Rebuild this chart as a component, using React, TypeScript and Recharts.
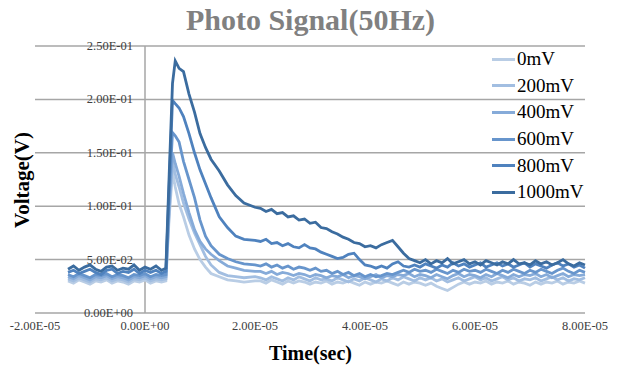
import React from 'react';
import { LineChart, Line, XAxis, YAxis, CartesianGrid, ReferenceLine } from 'recharts';

// time in units of 1e-5 s
const timeE5 = [
  -1.4, -1.3, -1.2, -1.1, -1.0, -0.9, -0.8, -0.7, -0.6, -0.5, -0.4, -0.3, -0.2, -0.1, 0, 0.1, 0.2, 0.3,
  0.38, 0.44, 0.5, 0.55, 0.62, 0.7, 0.8, 0.9, 1.0, 1.1, 1.2, 1.35, 1.5, 1.65, 1.8, 2.0,
  2.1, 2.2, 2.3, 2.4, 2.5, 2.6, 2.7, 2.8, 2.9, 3.0,
  3.1, 3.2, 3.3, 3.4, 3.5, 3.6, 3.7, 3.8, 3.9, 4.0,
  4.1, 4.2, 4.3, 4.4, 4.5, 4.6, 4.7, 4.8, 4.9, 5.0,
  5.1, 5.2, 5.3, 5.4, 5.5, 5.6, 5.7, 5.8, 5.9, 6.0,
  6.1, 6.2, 6.3, 6.4, 6.5, 6.6, 6.7, 6.8, 6.9, 7.0,
  7.1, 7.2, 7.3, 7.4, 7.5, 7.6, 7.7, 7.8, 7.9, 8.0,
];

const v1000 = [
  0.041, 0.044, 0.040, 0.043, 0.045, 0.041, 0.039, 0.043, 0.044, 0.040, 0.042, 0.041, 0.045, 0.040, 0.043, 0.041, 0.044, 0.040,
  0.042, 0.130, 0.215, 0.236, 0.229, 0.226, 0.205, 0.188, 0.168, 0.155, 0.144, 0.133, 0.120, 0.110, 0.103, 0.099,
  0.098, 0.095, 0.097, 0.093, 0.094, 0.090, 0.091, 0.087, 0.088, 0.084,
  0.085, 0.080, 0.079, 0.076, 0.074, 0.071, 0.069, 0.066, 0.065, 0.062,
  0.063, 0.061, 0.064, 0.066, 0.068, 0.062, 0.056, 0.051, 0.049, 0.047,
  0.050, 0.046, 0.049, 0.047, 0.051, 0.046, 0.048, 0.050, 0.046, 0.048,
  0.045, 0.049, 0.047, 0.045, 0.048, 0.046, 0.050, 0.046, 0.047, 0.045,
  0.049, 0.046, 0.048, 0.045, 0.047, 0.050, 0.046, 0.044, 0.047, 0.045,
];
const v800 = [
  0.038, 0.040, 0.037, 0.039, 0.041, 0.038, 0.036, 0.040, 0.041, 0.037, 0.039, 0.038, 0.041, 0.037, 0.040, 0.038, 0.040, 0.037,
  0.039, 0.120, 0.199, 0.196, 0.192, 0.184, 0.168, 0.150, 0.134, 0.121, 0.108, 0.090, 0.080, 0.072, 0.069, 0.068,
  0.067, 0.069, 0.065, 0.066, 0.063, 0.065, 0.062, 0.061, 0.064, 0.061,
  0.060, 0.057, 0.055, 0.053, 0.051, 0.052, 0.055, 0.056, 0.050, 0.045,
  0.044, 0.042, 0.044, 0.042, 0.046, 0.048, 0.044, 0.043, 0.045, 0.043,
  0.046, 0.044, 0.042, 0.045, 0.043, 0.047, 0.044, 0.046, 0.043, 0.045,
  0.047, 0.043, 0.045, 0.047, 0.044, 0.046, 0.043, 0.045, 0.047, 0.043,
  0.046, 0.044, 0.042, 0.045, 0.047, 0.044, 0.046, 0.043, 0.045, 0.042,
];
const v600 = [
  0.036, 0.034, 0.037, 0.035, 0.033, 0.036, 0.035, 0.037, 0.034, 0.036, 0.035, 0.033, 0.036, 0.035, 0.037, 0.034, 0.036, 0.035,
  0.036, 0.110, 0.169, 0.166, 0.160, 0.142, 0.125, 0.108, 0.087, 0.072, 0.063, 0.055, 0.051, 0.048, 0.046, 0.045,
  0.044, 0.046, 0.043, 0.045, 0.042, 0.044, 0.041, 0.043, 0.042, 0.040,
  0.042, 0.039, 0.040, 0.037, 0.039, 0.036, 0.038, 0.035, 0.037, 0.034,
  0.036, 0.034, 0.035, 0.037, 0.036, 0.038, 0.040, 0.038, 0.041, 0.039,
  0.040, 0.038, 0.041, 0.039, 0.037, 0.040, 0.038, 0.041, 0.039, 0.040,
  0.038, 0.041, 0.039, 0.037, 0.040, 0.038, 0.041, 0.039, 0.037, 0.040,
  0.038, 0.041, 0.039, 0.037, 0.040, 0.042, 0.039, 0.037, 0.040, 0.038,
];
const v400 = [
  0.034, 0.032, 0.035, 0.033, 0.031, 0.034, 0.033, 0.035, 0.032, 0.034, 0.033, 0.031, 0.034, 0.033, 0.035, 0.032, 0.034, 0.033,
  0.034, 0.100, 0.150, 0.140, 0.128, 0.112, 0.094, 0.078, 0.067, 0.060, 0.055, 0.049, 0.044, 0.042, 0.040, 0.039,
  0.039, 0.037, 0.039, 0.036, 0.038, 0.037, 0.035, 0.037, 0.036, 0.034,
  0.036, 0.035, 0.033, 0.035, 0.034, 0.036, 0.033, 0.035, 0.034, 0.032,
  0.034, 0.036, 0.033, 0.035, 0.034, 0.036, 0.035, 0.037, 0.034, 0.036,
  0.035, 0.033, 0.036, 0.034, 0.032, 0.035, 0.037, 0.034, 0.036, 0.035,
  0.033, 0.036, 0.034, 0.037, 0.035, 0.033, 0.036, 0.034, 0.036, 0.035,
  0.037, 0.034, 0.036, 0.033, 0.035, 0.037, 0.034, 0.036, 0.035, 0.036,
];
const v200 = [
  0.032, 0.030, 0.033, 0.031, 0.029, 0.032, 0.031, 0.033, 0.030, 0.032, 0.031, 0.029, 0.032, 0.031, 0.033, 0.030, 0.032, 0.031,
  0.032, 0.095, 0.142, 0.130, 0.118, 0.103, 0.088, 0.075, 0.064, 0.053, 0.045, 0.038, 0.035, 0.034, 0.033, 0.034,
  0.033, 0.031, 0.034, 0.032, 0.030, 0.033, 0.031, 0.034, 0.032, 0.030,
  0.033, 0.031, 0.032, 0.030, 0.033, 0.031, 0.029, 0.032, 0.030, 0.033,
  0.031, 0.029, 0.032, 0.030, 0.033, 0.031, 0.034, 0.032, 0.030, 0.033,
  0.031, 0.033, 0.030, 0.032, 0.029, 0.031, 0.033, 0.030, 0.032, 0.034,
  0.031, 0.033, 0.030, 0.032, 0.034, 0.031, 0.033, 0.030, 0.032, 0.031,
  0.033, 0.030, 0.032, 0.034, 0.031, 0.033, 0.030, 0.032, 0.031, 0.033,
];
const v0 = [
  0.030, 0.028, 0.031, 0.029, 0.027, 0.030, 0.029, 0.031, 0.028, 0.030, 0.029, 0.027, 0.030, 0.029, 0.031, 0.028, 0.030, 0.029,
  0.030, 0.090, 0.132, 0.118, 0.102, 0.090, 0.073, 0.060, 0.050, 0.043, 0.037, 0.034, 0.031, 0.030, 0.029, 0.030,
  0.030, 0.028, 0.031, 0.029, 0.027, 0.030, 0.028, 0.030, 0.029, 0.027,
  0.029, 0.028, 0.030, 0.027, 0.029, 0.028, 0.030, 0.028, 0.026, 0.029,
  0.027, 0.029, 0.028, 0.030, 0.028, 0.026, 0.029, 0.027, 0.029, 0.028,
  0.026, 0.028, 0.025, 0.023, 0.021, 0.024, 0.027, 0.029, 0.027, 0.029,
  0.028, 0.030, 0.027, 0.029, 0.028, 0.030, 0.027, 0.029, 0.028, 0.026,
  0.029, 0.027, 0.029, 0.028, 0.030, 0.027, 0.029, 0.028, 0.030, 0.028,
];

const seriesNames = ['0mV', '200mV', '400mV', '600mV', '800mV', '1000mV'];
const seriesValues = [v0, v200, v400, v600, v800, v1000];
const seriesColors = ['#b9cde5', '#a2bee1', '#86abd9', '#6795cc', '#4f82be', '#3b6c9f'];

const xTicks = [-2e-5, 0, 2e-5, 4e-5, 6e-5, 8e-5];
const yTicks = [0, 0.05, 0.1, 0.15, 0.2, 0.25];

const data = timeE5.map((t, i) => {
  const row: Record<string, number> = { t: t * 1e-5 };
  seriesNames.forEach((n, k) => {
    row[n] = seriesValues[k][i];
  });
  return row;
});

const FONT = "'Liberation Serif', 'Times New Roman', serif";

function sci(v: number): string {
  if (Math.abs(v) < 1e-12) return '0.00E+00';
  const [m, e] = v.toExponential(2).split('e');
  const n = parseInt(e, 10);
  return m + 'E' + (n < 0 ? '-' : '+') + String(Math.abs(n)).padStart(2, '0');
}

const YTick = (props: any) => {
  const { y, payload } = props;
  return (
    <text x={133} y={y} dy={4} textAnchor="end" fontFamily={FONT} fontSize={12.5} fill="#404040">
      {sci(payload.value)}
    </text>
  );
};

const XTick = (props: any) => {
  const { x, y, payload } = props;
  return (
    <text x={x} y={y} dy={9} textAnchor="middle" fontFamily={FONT} fontSize={12.5} fill="#404040">
      {sci(payload.value)}
    </text>
  );
};

export default function App() {
  return (
    <div style={{ position: 'fixed', left: 0, top: 0, width: 621, height: 370, background: '#fff' }}>
      <LineChart
        width={621}
        height={370}
        data={data}
        margin={{ top: 46, right: 36, bottom: 27, left: 5 }}
        style={{ position: 'absolute', left: 0, top: 0 }}
      >
        <CartesianGrid vertical={false} stroke="#a6a6a6" strokeWidth={1.5} />
        <XAxis
          dataKey="t"
          type="number"
          domain={[-2e-5, 8e-5]}
          ticks={xTicks}
          tick={<XTick />}
          axisLine={false}
          tickLine={false}
          height={30}
          interval={0}
        />
        <YAxis
          type="number"
          domain={[0, 0.25]}
          ticks={yTicks}
          tick={<YTick />}
          axisLine={false}
          tickLine={false}
          width={30}
          interval={0}
        />
        <ReferenceLine x={0} stroke="#a6a6a6" strokeWidth={1.5} />
        {seriesNames.map((n, k) => (
          <Line
            key={n}
            type="linear"
            dataKey={n}
            stroke={seriesColors[k]}
            strokeWidth={2.8}
            dot={false}
            isAnimationActive={false}
          />
        ))}
      </LineChart>
      <div
        style={{
          position: 'absolute', left: 0, width: 621, top: 3, textAlign: 'center',
          fontFamily: FONT, fontWeight: 'bold', fontSize: 30, color: '#808080',
        }}
      >
        Photo Signal(50Hz)
      </div>
      <div
        style={{
          position: 'absolute', left: 0, width: 621, top: 342, textAlign: 'center',
          fontFamily: FONT, fontWeight: 'bold', fontSize: 20, color: '#000',
        }}
      >
        Time(sec)
      </div>
      <div
        style={{
          position: 'absolute', left: 22, top: 180, transform: 'translate(-50%, -50%) rotate(-90deg)',
          fontFamily: FONT, fontWeight: 'bold', fontSize: 21, color: '#000', whiteSpace: 'nowrap',
        }}
      >
        Voltage(V)
      </div>
      <div style={{ position: 'absolute', left: 492, top: 46, fontFamily: FONT }}>
        {seriesNames.map((n, k) => (
          <div key={n} style={{ display: 'flex', alignItems: 'center', height: 26.6 }}>
            <div style={{ width: 23, height: 3, background: seriesColors[k], marginRight: 2 }} />
            <span style={{ fontSize: 19, color: '#000', lineHeight: '20px' }}>{n}</span>
          </div>
        ))}
      </div>
    </div>
  );
}
